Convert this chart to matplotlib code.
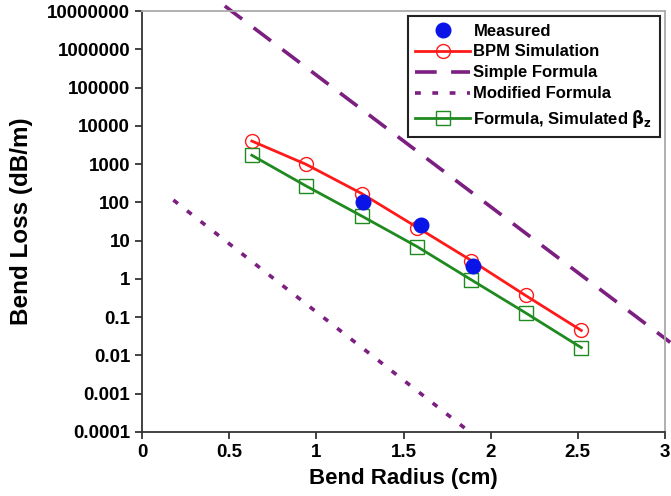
import matplotlib
matplotlib.use("Agg")
import matplotlib.pyplot as plt
from matplotlib.lines import Line2D

plt.rcParams['font.family'] = ['Liberation Sans', 'DejaVu Sans']
plt.rcParams['font.weight'] = 'bold'
plt.rcParams['mathtext.fontset'] = 'dejavusans'

# Data
bpm_radius = [0.63, 0.94, 1.26, 1.58, 1.89, 2.20, 2.52]
bpm_loss = [4000, 990, 170, 22, 3.0, 0.37, 0.045]

formula_radius = [0.63, 0.94, 1.26, 1.58, 1.89, 2.20, 2.52]
formula_loss = [1700, 270, 44, 6.9, 0.94, 0.13, 0.016]

meas_radius = [1.27, 1.60, 1.90]
meas_loss = [105, 26, 2.2]

simple_radius = [0.475, 3.03]
simple_loss = [1.35e7, 0.022]

modified_radius = [0.18, 1.88]
modified_loss = [115, 1.0e-4]

y_ticks = [1e7, 1e6, 1e5, 1e4, 1e3, 1e2, 1e1, 1, 0.1, 0.01, 0.001, 0.0001]
y_ticklabels = ['10000000', '1000000', '100000', '10000', '1000', '100', '10',
                '1', '0.1', '0.01', '0.001', '0.0001']
x_ticks = [0, 0.5, 1, 1.5, 2, 2.5, 3]
x_ticklabels = ['0', '0.5', '1', '1.5', '2', '2.5', '3']

purple = '#7b1f80'
red = '#ff1a1a'
green = '#1f8a1f'
blue = '#0a14e6'

fig = plt.figure(figsize=(6.71, 4.96), dpi=100)
ax = fig.add_axes([142 / 671, 1 - 432 / 496, (665 - 142) / 671, (432 - 11) / 496])
ax.set_yscale('log')
ax.set_xlim(0, 3)
ax.set_ylim(1e-4, 1e7)

ax.plot(simple_radius, simple_loss, color=purple, lw=2.6, dashes=(6, 4),
        clip_on=False, zorder=2)
ax.plot(modified_radius, modified_loss, color=purple, lw=2.6, dashes=(1.6, 3.2),
        zorder=2)
ax.plot(bpm_radius, bpm_loss, color=red, lw=2.0, marker='o', ms=10,
        mfc='none', mec=red, mew=1.0, zorder=3)
ax.plot(formula_radius, formula_loss, color=green, lw=2.0, marker='s', ms=10,
        mfc='none', mec=green, mew=1.0, zorder=3)
ax.plot(meas_radius, meas_loss, ls='none', marker='o', ms=10.5, color=blue,
        zorder=4)

ax.set_yticks(y_ticks)
ax.set_yticklabels(y_ticklabels)
ax.set_xticks(x_ticks)
ax.set_xticklabels(x_ticklabels)
ax.minorticks_off()
ax.tick_params(axis='both', labelsize=13.5, length=5, width=1.2, direction='out',
               colors='#222222', labelcolor='black')
for lab in ax.get_xticklabels() + ax.get_yticklabels():
    lab.set_fontweight('bold')

for s in ['left', 'bottom']:
    ax.spines[s].set_color('#333333')
    ax.spines[s].set_linewidth(1.3)
for s in ['top', 'right']:
    ax.spines[s].set_color('#aaaaaa')
    ax.spines[s].set_linewidth(1.3)

ax.set_xlabel('Bend Radius (cm)', fontsize=16, fontweight='bold', labelpad=5)
ax.set_ylabel('Bend Loss (dB/m)', fontsize=17.5, fontweight='bold', labelpad=10)

handles = [
    Line2D([], [], ls='none', marker='o', ms=10.5, color=blue),
    Line2D([], [], color=red, lw=2.0, marker='o', ms=10, mfc='none', mec=red, mew=1.0),
    Line2D([], [], color=purple, lw=2.6, dashes=(6, 4)),
    Line2D([], [], color=purple, lw=2.6, dashes=(1.6, 3.2)),
    Line2D([], [], color=green, lw=2.0, marker='s', ms=10, mfc='none', mec=green, mew=1.0),
]
labels = ['Measured', 'BPM Simulation', 'Simple Formula', 'Modified Formula',
          r'Formula, Simulated $\mathrm{\beta}_\mathrm{z}$']
leg = ax.legend(handles, labels, loc='upper right', bbox_to_anchor=(1.0, 1.0),
                fontsize=12, frameon=True, fancybox=False, framealpha=1,
                edgecolor='#222222', handlelength=3.3, handletextpad=0.2,
                labelspacing=0.36, borderpad=0.45, borderaxespad=0.3)
leg.get_frame().set_linewidth(1.5)
for t in leg.get_texts():
    t.set_fontweight('bold')

fig.savefig('out.png', dpi=100)
